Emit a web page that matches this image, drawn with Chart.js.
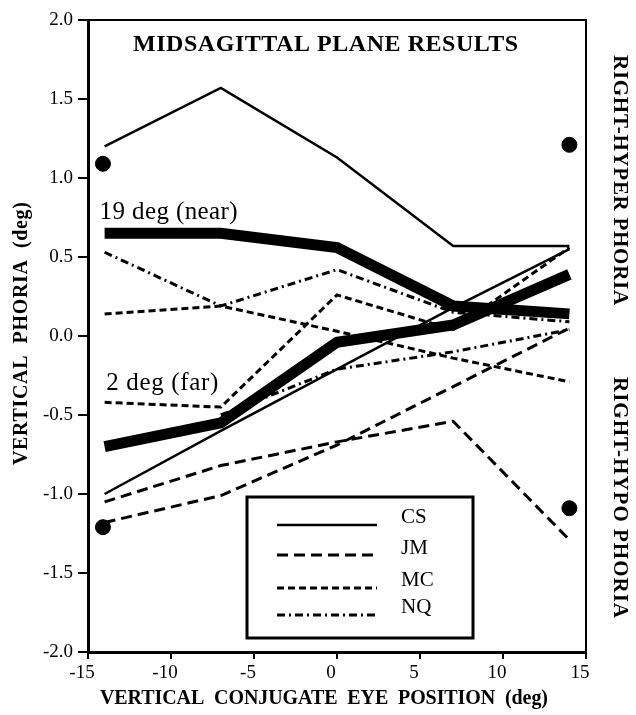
<!DOCTYPE html>
<html>
<head>
<meta charset="utf-8">
<script src="https://cdn.jsdelivr.net/npm/chart.js@4.4.1/dist/chart.umd.min.js"></script>
<style>
  html, body { margin: 0; padding: 0; background: #fff; }
  #wrap { position: relative; width: 636px; height: 715px; }
</style>
</head>
<body>
<div id="wrap"><canvas id="c" width="636" height="715"></canvas></div>
<script>
// ---- data ----
const xPositions = [-14, -7, 0, 7, 14];
const xTicks = [-15, -10, -5, 0, 5, 10, 15];
const yTicks = [-2.0, -1.5, -1.0, -0.5, 0.0, 0.5, 1.0, 1.5, 2.0];

const csUpper  = [1.20, 1.57, 1.13, 0.57, 0.57];
const csLower  = [-1.00, -0.60, -0.21, 0.18, 0.55];
const jmUpper  = [-1.05, -0.82, -0.67, -0.54, -1.29];
const jmLower  = [-1.18, -1.01, -0.69, -0.32, 0.05];
const mcUpper  = [0.14, 0.19, 0.03, -0.14, -0.29];
const mcLower  = [-0.42, -0.45, 0.26, 0.04, 0.56];
const nqUpper  = [0.53, 0.19, 0.42, 0.15, 0.09];
const nqLower  = [null, -0.50, -0.21, -0.10, 0.04];
const meanNear = [0.65, 0.65, 0.56, 0.19, 0.14];
const meanFar  = [-0.70, -0.55, -0.04, 0.07, 0.39];

const dotX = [-14.1, 14.0, -14.1, 14.0];
const dotY = [1.09, 1.21, -1.21, -1.09];

const legendNames = ['CS', 'JM', 'MC', 'NQ'];
const nearLabel = '19 deg (near)';
const farLabel = '2 deg (far)';

// ---- styles ----
const SERIF = '"Liberation Serif", "DejaVu Serif", serif';
const styles = {
  CS: { dash: [], width: 2.5 },
  JM: { dash: [11, 6], width: 3 },
  MC: { dash: [7, 4], width: 3 },
  NQ: { dash: [8, 4, 2, 4], width: 3 }
};

function pts(vals) { return xPositions.map((x, i) => ({ x: x, y: vals[i] })); }
function lineDs(label, vals, key) {
  const s = styles[key];
  return {
    label: label, data: pts(vals), borderColor: '#000', backgroundColor: '#000',
    borderWidth: s.width, borderDash: s.dash, pointRadius: 0, fill: false,
    tension: 0, spanGaps: false, borderJoinStyle: 'miter', borderCapStyle: 'butt'
  };
}

const datasets = [
  { label: 'near', data: pts(meanNear), borderColor: '#000', borderWidth: 11, pointRadius: 0, fill: false, borderJoinStyle: 'miter', borderCapStyle: 'butt' },
  { label: 'far', data: pts(meanFar), borderColor: '#000', borderWidth: 11, pointRadius: 0, fill: false, borderJoinStyle: 'miter', borderCapStyle: 'butt' },
  lineDs('CS', csUpper, 'CS'),
  lineDs('CS2', csLower, 'CS'),
  lineDs('JM', jmUpper, 'JM'),
  lineDs('JM2', jmLower, 'JM'),
  lineDs('MC', mcUpper, 'MC'),
  lineDs('MC2', mcLower, 'MC'),
  lineDs('NQ', nqUpper, 'NQ'),
  lineDs('NQ2', nqLower, 'NQ'),
  { type: 'scatter', label: 'dots', data: dotX.map((x, i) => ({ x: x, y: dotY[i] })),
    pointRadius: 7.5, pointBackgroundColor: '#000', pointBorderColor: '#000', showLine: false }
];

// draw text left-aligned from (0,0) stretched to a target width with letter spacing
function fitText(ctx, text, w) {
  ctx.letterSpacing = '0px';
  const w0 = ctx.measureText(text).width;
  const sp = (w - w0) / Math.max(1, text.length - 1);
  ctx.letterSpacing = sp.toFixed(2) + 'px';
  ctx.fillText(text, 0, 0);
  ctx.letterSpacing = '0px';
}

const decor = {
  id: 'decor',
  afterDraw(chart) {
    const ctx = chart.ctx, a = chart.chartArea;
    const xs = chart.scales.x;
    ctx.save();
    // frame (top and right)
    ctx.strokeStyle = '#000';
    ctx.lineWidth = 2;
    ctx.setLineDash([]);
    ctx.beginPath();
    ctx.moveTo(a.left, a.top);
    ctx.lineTo(a.right, a.top);
    ctx.lineTo(a.right, a.bottom);
    ctx.stroke();

    ctx.fillStyle = '#000';
    ctx.textAlign = 'left';
    ctx.textBaseline = 'middle';

    // chart title
    ctx.save();
    ctx.font = 'bold 24px ' + SERIF;
    ctx.translate(133, 45);
    fitText(ctx, 'MIDSAGITTAL PLANE RESULTS', 385);
    ctx.restore();

    // annotations
    ctx.save();
    ctx.font = '25px ' + SERIF;
    ctx.translate(xs.getPixelForValue(-14.3), 212);
    fitText(ctx, nearLabel, 138);
    ctx.restore();
    ctx.save();
    ctx.font = '25px ' + SERIF;
    ctx.translate(xs.getPixelForValue(-13.9), 383);
    fitText(ctx, farLabel, 112);
    ctx.restore();

    // y axis title
    ctx.save();
    ctx.font = 'bold 20px ' + SERIF;
    ctx.translate(22, 465);
    ctx.rotate(-Math.PI / 2);
    fitText(ctx, 'VERTICAL  PHORIA  (deg)', 263);
    ctx.restore();

    // x axis title
    ctx.save();
    ctx.font = 'bold 20px ' + SERIF;
    ctx.translate(100, 699);
    fitText(ctx, 'VERTICAL  CONJUGATE  EYE  POSITION  (deg)', 448);
    ctx.restore();

    // right side labels
    [['RIGHT-HYPER PHORIA', 55, 250], ['RIGHT-HYPO PHORIA', 377, 241]].forEach(([t, y0, w]) => {
      ctx.save();
      ctx.font = 'bold 21px ' + SERIF;
      ctx.translate(619, y0);
      ctx.rotate(Math.PI / 2);
      fitText(ctx, t, w);
      ctx.restore();
    });

    // legend box
    ctx.lineWidth = 3;
    ctx.strokeRect(247, 497, 226, 141);
    const rows = [[525, 517], [555, 548], [588, 580], [615, 607]];
    ctx.font = '21px ' + SERIF;
    ctx.textAlign = 'left';
    ctx.textBaseline = 'middle';
    legendNames.forEach((n, i) => {
      const s = styles[n];
      ctx.lineWidth = s.width;
      ctx.setLineDash(s.dash);
      ctx.beginPath();
      ctx.moveTo(277, rows[i][0]);
      ctx.lineTo(377, rows[i][0]);
      ctx.stroke();
      ctx.setLineDash([]);
      ctx.fillText(n, 401, rows[i][1]);
    });
    ctx.restore();
  }
};

new Chart(document.getElementById('c'), {
  type: 'line',
  data: { datasets: datasets },
  options: {
    responsive: false,
    animation: false,
    devicePixelRatio: 1,
    layout: { padding: { top: 20, right: 50, left: 0, bottom: 0 } },
    plugins: { legend: { display: false }, tooltip: { enabled: false }, title: { display: false } },
    scales: {
      x: {
        type: 'linear', min: -15, max: 15,
        afterBuildTicks: (s) => { s.ticks = xTicks.map(v => ({ value: v })); },
        afterFit: (s) => { s.height = 63; },
        ticks: { color: '#000', font: { family: SERIF, size: 19 }, padding: 3, labelOffset: -6, autoSkip: false, maxRotation: 0,
          callback: (v) => String(v) },
        grid: { display: true, drawOnChartArea: false, drawTicks: true, tickLength: 7, color: '#000', lineWidth: 2 },
        border: { display: true, color: '#000', width: 3 }
      },
      y: {
        type: 'linear', min: -2, max: 2,
        afterBuildTicks: (s) => { s.ticks = yTicks.map(v => ({ value: v })); },
        afterFit: (s) => { s.width = 88; },
        ticks: { color: '#000', font: { family: SERIF, size: 19 }, padding: 5, autoSkip: false,
          callback: (v) => Number(v).toFixed(1) },
        grid: { display: true, drawOnChartArea: false, drawTicks: true, tickLength: 10, color: '#000', lineWidth: 2 },
        border: { display: true, color: '#000', width: 3 }
      }
    }
  },
  plugins: [decor]
});
</script>
</body>
</html>
